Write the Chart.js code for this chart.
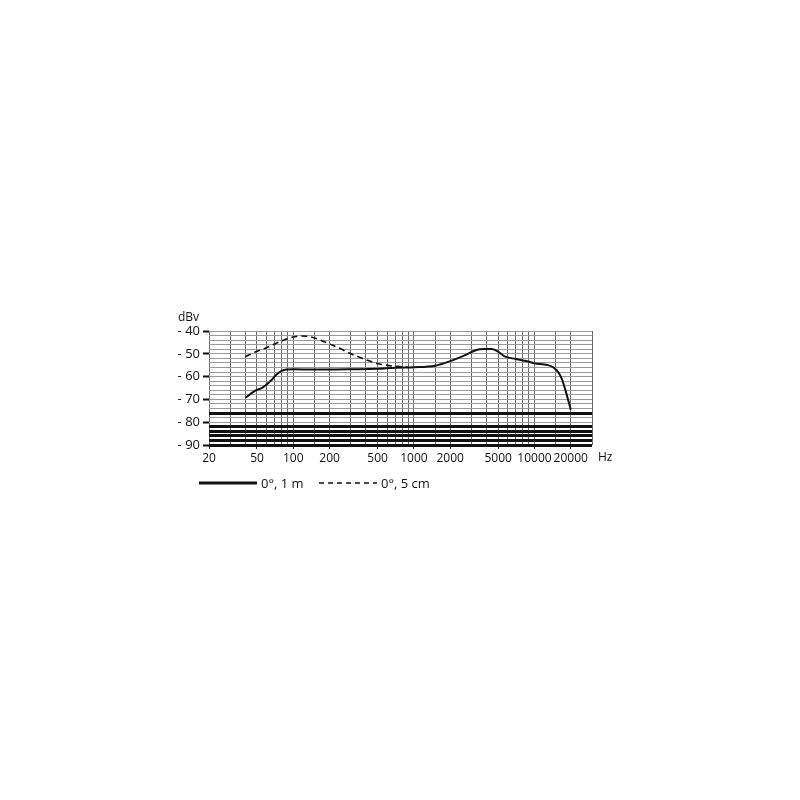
<!DOCTYPE html>
<html>
<head>
<meta charset="utf-8">
<script src="https://cdn.jsdelivr.net/npm/chart.js@4.4.1/dist/chart.umd.min.js"></script>
<style>
  html, body { margin: 0; padding: 0; background: #fff; }
  #wrap { position: relative; width: 800px; height: 800px; }
  #chart { position: absolute; left: 0; top: 0; }
  .leg { position: absolute; font: 13px 'Open Sans', sans-serif; color: #111; line-height: 16px; }
</style>
</head>
<body>
<div id="wrap">
  <canvas id="chart" width="800" height="800"></canvas>
  <svg class="leg" style="left:199px; top:480px" width="60" height="6">
    <line x1="0" y1="3" x2="58" y2="3" stroke="#111" stroke-width="3"/>
  </svg>
  <span class="leg" style="left:261px; top:475px">0°, 1 m</span>
  <svg class="leg" style="left:319px; top:480px" width="60" height="6">
    <line x1="0" y1="3" x2="58" y2="3" stroke="#111" stroke-width="1.5" stroke-dasharray="5,4"/>
  </svg>
  <span class="leg" style="left:381px; top:475px">0°, 5 cm</span>
</div>
<script>
// frequency grid (Hz) and the ones that get a label
const freqTicks = [20, 30, 40, 50, 60, 70, 80, 90, 100, 150, 200, 300, 400, 500, 600, 700, 800, 900,
                   1000, 1500, 2000, 3000, 4000, 5000, 6000, 7000, 8000, 9000, 10000, 15000, 20000, 30000];
const freqLabels = [20, 50, 100, 200, 500, 1000, 2000, 5000, 10000, 20000];
const levelLabels = [-40, -50, -60, -70, -80, -90];
const heavyLevels = [-76, -82, -84, -86, -88, -90];

// 0°, 1 m
const freq1m = [40, 48, 56, 66, 72, 80, 88, 100, 150, 200, 300, 500, 700, 1000, 1500, 2000,
                2600, 3300, 3800, 4400, 5000, 5600, 7000, 9000, 10000, 12800, 14500, 16000, 17000, 18200, 20000];
const level1m = [-69.3, -66.3, -64.7, -61.5, -59.3, -57.5, -56.9, -56.8, -56.9, -56.9, -56.8, -56.6, -56.1, -55.9, -55.2, -53.2,
                 -50.8, -48.3, -47.9, -47.9, -49.0, -51.0, -52.3, -53.5, -54.2, -54.9, -56.1, -58.6, -61.5, -66.6, -74.5];

// 0°, 5 cm
const freq5cm = [40, 49, 60, 72, 88, 103, 114, 137, 166, 200, 243, 294, 355, 430, 520, 630, 760, 900];
const level5cm = [-51.3, -49.1, -47.3, -45.4, -43.5, -42.5, -42.2, -42.5, -43.9, -45.7, -47.6, -49.8, -51.5, -53.2, -54.5, -55.2, -55.6, -55.9];

const toPoints = (xs, ys) => xs.map((x, i) => ({ x: x, y: ys[i] }));
const tickVal = (c) => c.tick ? c.tick.value : null;

const axisUnits = {
    id: 'axisUnits',
    afterDraw(chart) {
        const { ctx, chartArea } = chart;
        ctx.save();
        ctx.font = "12px 'Open Sans', sans-serif";
        ctx.fillStyle = '#111';
        ctx.textBaseline = 'middle';
        ctx.textAlign = 'left';
        ctx.fillText('Hz', chartArea.right + 6, chartArea.bottom + 13);
        ctx.textAlign = 'right';
        ctx.fillText('dBv', chartArea.left - 10, chartArea.top - 13);
        ctx.restore();
    }
};

Chart.defaults.font.family = "'Open Sans', sans-serif";
Chart.defaults.font.size = 12;
Chart.defaults.color = '#111';

new Chart(document.getElementById('chart').getContext('2d'), {
    type: 'line',
    data: {
        datasets: [{
            label: '0°, 1 m',
            data: toPoints(freq1m, level1m),
            borderColor: '#111',
            borderWidth: 2,
            pointRadius: 0,
            cubicInterpolationMode: 'monotone'
        }, {
            label: '0°, 5 cm',
            data: toPoints(freq5cm, level5cm),
            borderColor: '#111',
            borderWidth: 1.6,
            borderDash: [6, 4],
            pointRadius: 0,
            cubicInterpolationMode: 'monotone'
        }]
    },
    options: {
        responsive: false,
        animation: false,
        layout: { padding: { left: 170, right: 208, top: 331, bottom: 330 } },
        plugins: { legend: { display: false }, tooltip: { enabled: false } },
        scales: {
            x: {
                type: 'logarithmic',
                min: 20,
                max: 30000,
                afterBuildTicks: (scale) => { scale.ticks = freqTicks.map(v => ({ value: v })); },
                afterFit: (scale) => { scale.height = 25; },
                border: { display: false },
                grid: {
                    color: '#6a6a6a',
                    lineWidth: 1,
                    tickLength: 4,
                    tickColor: (c) => freqLabels.includes(tickVal(c)) ? '#333' : 'rgba(0,0,0,0)'
                },
                ticks: {
                    autoSkip: false,
                    maxRotation: 0,
                    minRotation: 0,
                    padding: 2,
                    callback: (v) => freqLabels.includes(v) ? String(v) : ''
                }
            },
            y: {
                min: -90,
                max: -40,
                afterFit: (scale) => { scale.width = 39; },
                border: { display: false },
                grid: {
                    tickLength: 6,
                    tickWidth: 2,
                    tickColor: (c) => levelLabels.includes(tickVal(c)) ? '#111' : 'rgba(0,0,0,0)',
                    color: (c) => heavyLevels.includes(tickVal(c)) ? '#111' : '#9a9a9a',
                    lineWidth: (c) => heavyLevels.includes(tickVal(c)) ? 3 : 1
                },
                ticks: {
                    stepSize: 2,
                    autoSkip: false,
                    padding: 3,
                    font: { size: 13 },
                    callback: (v) => levelLabels.includes(v) ? '- ' + Math.abs(v) : ''
                }
            }
        }
    },
    plugins: [axisUnits]
});
</script>
</body>
</html>
